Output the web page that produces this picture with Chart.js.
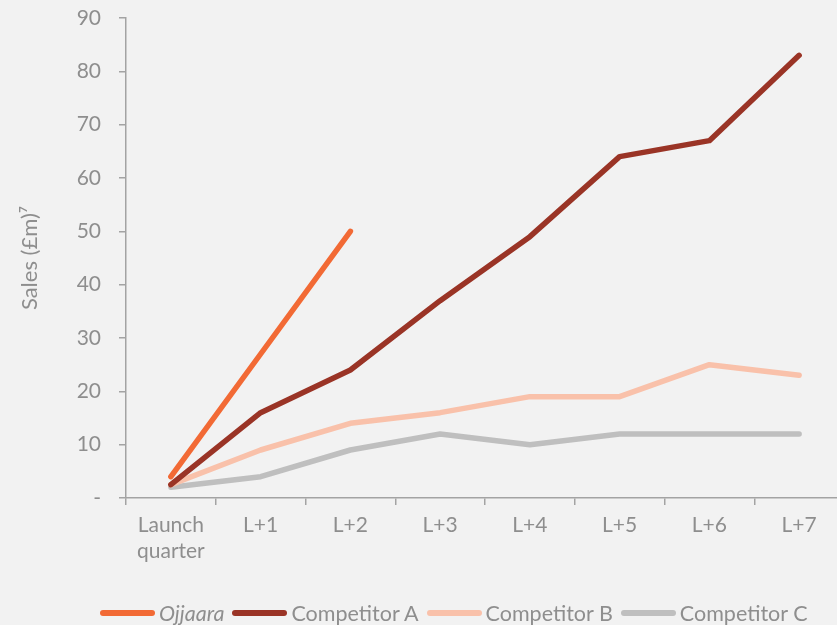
<!DOCTYPE html>
<html lang="en">
<head>
  <meta charset="UTF-8" />
  <title>Sales after launch</title>
  <script src="https://cdn.jsdelivr.net/npm/chart.js"></script>
  <style>
    html, body {
      margin: 0;
      padding: 0;
      background: #f2f2f2;
      overflow: hidden;
      font-family: 'Lato', sans-serif;
    }

    .wrap {
      position: relative;
      width: 837px;
      height: 625px;
      overflow: hidden;
    }

    canvas {
      position: absolute;
      left: 0;
      top: 0;
    }

    #legend {
      position: absolute;
      top: 600px;
      left: 100px;
      display: flex;
      align-items: center;
      white-space: nowrap;
      font-size: 21.5px;
      color: #8e8e8e;
    }

    .item {
      display: flex;
      align-items: center;
      margin-right: 8px;
    }

    .swatch {
      width: 55px;
      height: 6px;
      border-radius: 3px;
      margin-right: 4px;
    }
  </style>
</head>
<body>

<div class="wrap">
  <canvas id="salesChart" width="850" height="625"></canvas>
  <div id="legend"></div>
</div>

<script>
  // quarters since launch
  const quarters = [['Launch', 'quarter'], 'L+1', 'L+2', 'L+3', 'L+4', 'L+5', 'L+6', 'L+7'];

  // sales, £m
  const ojjaara     = [4, 27, 50, null, null, null, null, null];
  const competitorA = [2.5, 16, 24, 37, 49, 64, 67, 83];
  const competitorB = [2.5, 9, 14, 16, 19, 19, 25, 23];
  const competitorC = [2, 4, 9, 12, 10, 12, 12, 12];

  const yTicks = [0, 10, 20, 30, 40, 50, 60, 70, 80, 90];

  const seriesNames  = ['Ojjaara', 'Competitor A', 'Competitor B', 'Competitor C'];
  const seriesColors = ['#f26a35', '#9a3426', '#f9c1aa', '#bfbfbf'];
  const seriesData   = [ojjaara, competitorA, competitorB, competitorC];

  const axisColor = '#a3a3a3';
  const textColor = '#8e8e8e';

  Chart.defaults.font.family = "'Lato', sans-serif";
  Chart.defaults.color = textColor;

  const ctx = document.getElementById('salesChart').getContext('2d');
  const chart = new Chart(ctx, {
    type: 'line',
    data: {
      labels: quarters,
      datasets: seriesData.map((data, i) => ({
        label: seriesNames[i],
        data: data,
        borderColor: seriesColors[i],
        backgroundColor: seriesColors[i],
        borderWidth: 5.5,
        borderCapStyle: 'round',
        borderJoinStyle: 'round',
        pointRadius: 0,
        tension: 0
      }))
    },
    options: {
      responsive: false,
      animation: false,
      layout: {
        padding: { top: 18, right: 6, bottom: 57, left: 0 }
      },
      plugins: {
        legend: { display: false },
        tooltip: { enabled: false }
      },
      scales: {
        x: {
          offset: true,
          grid: {
            offset: true,
            drawOnChartArea: false,
            drawTicks: true,
            tickLength: 7,
            color: axisColor,
            lineWidth: 1.5
          },
          border: { color: axisColor, width: 1.5 },
          ticks: {
            padding: 7,
            maxRotation: 0,
            color: textColor,
            font: { size: 21, lineHeight: 1.25 }
          },
          afterFit: (scale) => { scale.height = 70; }
        },
        y: {
          min: 0,
          max: 90,
          afterBuildTicks: (scale) => {
            scale.ticks = yTicks.map(v => ({ value: v }));
          },
          grid: {
            drawOnChartArea: false,
            drawTicks: true,
            tickLength: 7,
            color: axisColor,
            lineWidth: 1.5
          },
          border: { color: axisColor, width: 1.5 },
          ticks: {
            padding: 18,
            color: textColor,
            font: { size: 21 },
            callback: (value) => value === 0 ? '-' : value
          },
          title: {
            display: true,
            text: 'Sales (£m)⁷',
            color: textColor,
            font: { size: 22 },
            padding: { top: 17, bottom: 0 }
          },
          afterFit: (scale) => {
            scale.width = 126;
            // tick padding would otherwise push the plot area down
            scale.paddingTop = 0;
            scale.paddingBottom = 0;
          }
        }
      }
    }
  });

  // legend under the chart
  const legendBox = document.getElementById('legend');
  seriesNames.forEach((name, i) => {
    const item = document.createElement('div');
    item.className = 'item';
    const swatch = document.createElement('span');
    swatch.className = 'swatch';
    swatch.style.background = seriesColors[i];
    const label = document.createElement('span');
    label.textContent = name;
    if (i === 0) label.style.fontStyle = 'italic';
    item.appendChild(swatch);
    item.appendChild(label);
    legendBox.appendChild(item);
  });
</script>

</body>
</html>
